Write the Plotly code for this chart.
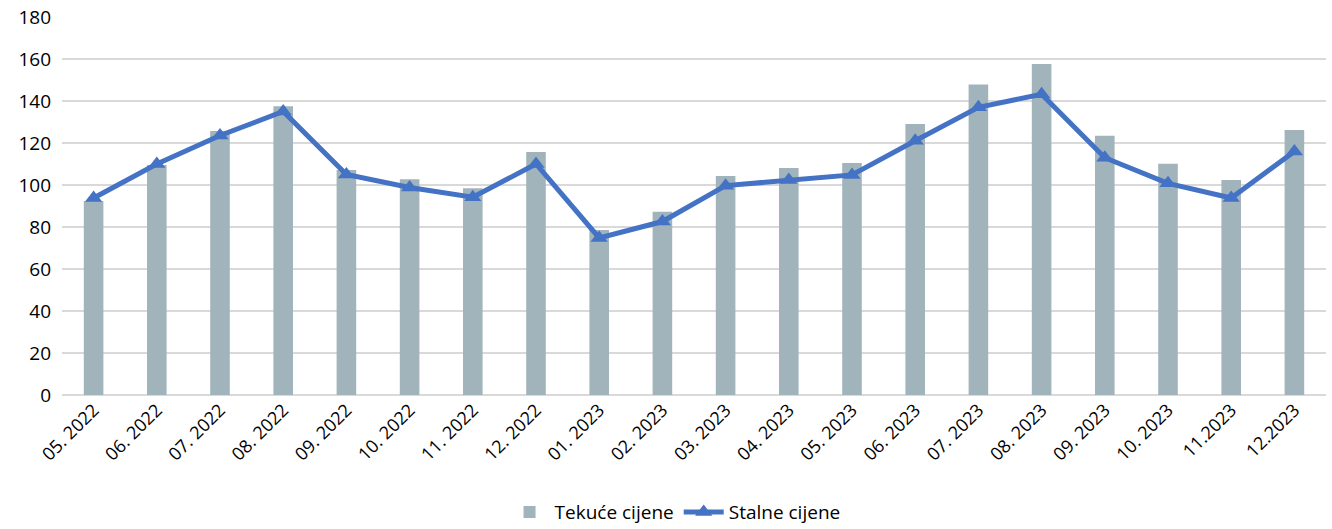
import plotly.graph_objects as go

categories = ["05. 2022", "06. 2022", "07. 2022", "08. 2022", "09. 2022", "10. 2022",
              "11. 2022", "12. 2022", "01. 2023", "02. 2023", "03. 2023", "04. 2023",
              "05. 2023", "06. 2023", "07. 2023", "08. 2023", "09. 2023", "10. 2023",
              "11.2023", "12.2023"]
tekuce = [92.4, 109.5, 125.7, 137.5, 107.1, 102.7, 98.4, 115.7, 78.6, 87.3,
          104.3, 108.1, 110.5, 129.0, 147.9, 157.6, 123.5, 110.1, 102.4, 126.2]
stalne = [93.8, 110.0, 123.6, 135.0, 105.0, 98.8, 94.2, 110.0, 74.8, 82.6,
          99.7, 102.4, 104.8, 121.1, 137.0, 143.2, 113.0, 100.8, 93.8, 116.0]
yticks = [0, 20, 40, 60, 80, 100, 120, 140, 160, 180]

FONT = "Open Sans"

fig = go.Figure()
fig.add_trace(go.Bar(x=categories, y=tekuce, name="Tekuće cijene",
                     marker=dict(color="#A2B4BB", line=dict(width=0)), width=0.31))
fig.add_trace(go.Scatter(x=categories, y=stalne, name="Stalne cijene", mode="lines+markers",
                         line=dict(color="#4472C4", width=5),
                         marker=dict(symbol="triangle-up", size=15, color="#4472C4")))

fig.update_layout(
    width=1332, height=529,
    margin=dict(l=62, r=6, t=17, b=134, autoexpand=False),
    paper_bgcolor="white", plot_bgcolor="white",
    font=dict(family=FONT, size=19, color="#000000"),
    showlegend=True,
    legend=dict(orientation="h", x=0.485, xanchor="center", y=-0.31, yanchor="middle",
                font=dict(family=FONT, size=19), itemwidth=40, tracegroupgap=0),
    xaxis=dict(type="category", range=[-0.5, len(categories) - 0.5], tickangle=-45,
               showgrid=False, showline=False, ticks="",
               tickfont=dict(family=FONT, size=18), automargin=False),
    yaxis=dict(range=[0, 180], tickvals=yticks, showgrid=True, gridcolor="#D9D9D9",
               gridwidth=1.5, zeroline=True, zerolinecolor="#D9D9D9", zerolinewidth=1.5,
               showline=False, ticks="", tickfont=dict(family=FONT, size=19),
               ticklabelstandoff=10, automargin=False),
)

fig.write_html("out.html", config={"displayModeBar": False},
               post_script="document.body.style.margin='0';document.body.style.overflow='hidden';")
